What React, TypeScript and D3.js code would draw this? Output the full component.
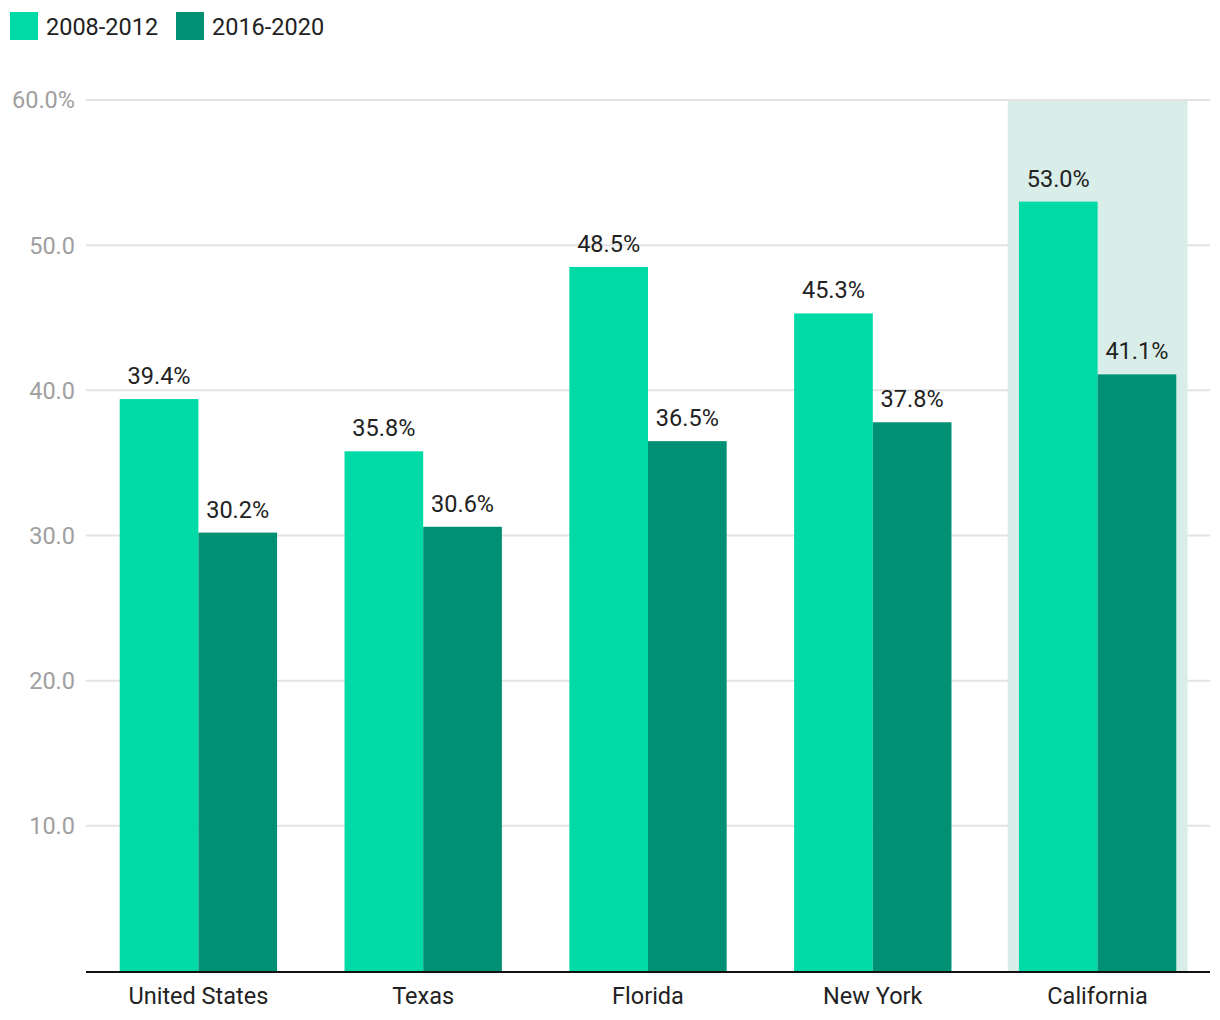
import React from "react";
import * as d3 from "d3";

const categories = ["United States", "Texas", "Florida", "New York", "California"];
const seriesNames = ["2008-2012", "2016-2020"];
const values2008 = [39.4, 35.8, 48.5, 45.3, 53.0];
const values2016 = [30.2, 30.6, 36.5, 37.8, 41.1];
const yTicks = [10, 20, 30, 40, 50, 60];
const highlighted = "California";

const colors = ["#00daa6", "#009074"];

const App = () => {
  const width = 1220;
  const height = 1020;
  const left = 86;
  const right = 1210;
  const top = 100;
  const bottom = 971;
  const font = "Roboto, sans-serif";
  const fs = 23.5;

  const x = d3.scaleBand<string>().domain(categories).range([left, right]).paddingInner(0.3).paddingOuter(0.15);
  const sub = d3.scaleBand<number>().domain([0, 1]).range([0, x.bandwidth()]);
  const y = d3.scaleLinear().domain([0, 60]).range([bottom, top]);

  const series = [values2008, values2016];
  const hx = x(highlighted)! - x.step() * 0.05;
  const hw = x.bandwidth() + x.step() * 0.1;

  return (
    <svg width={width} height={height} style={{ position: "absolute", left: 0, top: 0 }}>
      {/* legend */}
      {seriesNames.map((name, i) => (
        <g key={name} transform={`translate(${10 + i * 166},12)`}>
          <rect width={28} height={28} fill={colors[i]} />
          <text x={36} y={22.5} fontFamily={font} fontSize={fs} fill="#222">
            {name}
          </text>
        </g>
      ))}

      {/* gridlines + tick labels */}
      {yTicks.map((t) => (
        <g key={t}>
          <line x1={left} x2={right} y1={y(t)} y2={y(t)} stroke="#e3e3e3" strokeWidth={2} />
          <text
            x={75}
            y={y(t)}
            dy="0.36em"
            textAnchor="end"
            fontFamily={font}
            fontSize={fs}
            fill="#a0a0a0"
          >
            {t === 60 ? `${t.toFixed(1)}%` : t.toFixed(1)}
          </text>
        </g>
      ))}

      {/* highlight band */}
      <rect x={hx} y={top + 1} width={hw} height={bottom - top - 1} fill="#d9ede9" />

      {/* bars */}
      {categories.map((c, ci) =>
        series.map((vals, si) => {
          const bx = x(c)! + sub(si)!;
          const by = y(vals[ci]);
          return (
            <g key={`${c}-${si}`}>
              <rect x={bx} y={by} width={sub.bandwidth()} height={bottom - by} fill={colors[si]} />
              <text
                x={bx + sub.bandwidth() / 2}
                y={by - 15}
                textAnchor="middle"
                fontFamily={font}
                fontSize={fs}
                fill="#222"
              >
                {vals[ci].toFixed(1)}%
              </text>
            </g>
          );
        })
      )}

      {/* baseline */}
      <line x1={left} x2={right} y1={bottom + 1} y2={bottom + 1} stroke="#111" strokeWidth={2} />

      {/* category labels */}
      {categories.map((c) => (
        <text
          key={c}
          x={x(c)! + x.bandwidth() / 2}
          y={1004}
          textAnchor="middle"
          fontFamily={font}
          fontSize={fs}
          fill="#222"
        >
          {c}
        </text>
      ))}
    </svg>
  );
};

export default App;
